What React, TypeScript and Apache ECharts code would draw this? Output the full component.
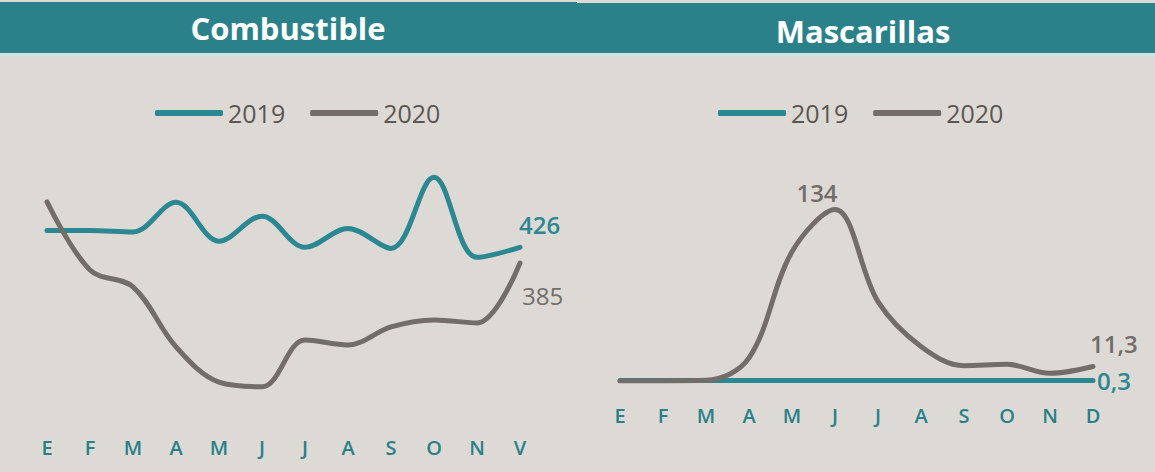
import React, { useEffect, useRef } from "react";
import * as echarts from "echarts";

const monthsFuel = ["E", "F", "M", "A", "M", "J", "J", "A", "S", "O", "N", "V"];
const monthsMask = ["E", "F", "M", "A", "M", "J", "J", "A", "S", "O", "N", "D"];
const fuel2019 = [470, 470, 466, 543, 442, 507, 426, 475, 423, 608, 400, 426];
const fuel2020 = [544, 367, 323, 167, 75, 63, 185, 172, 219, 237, 229, 385];
const mask2019 = [0.3, 0.3, 0.3, 0.3, 0.3, 0.3, 0.3, 0.3, 0.3, 0.3, 0.3, 0.3];
const mask2020 = [0, 0, 0.5, 18, 101, 134, 62, 27, 12, 13, 6, 11.3];
const titles = ["Combustible", "Mascarillas"];
const seriesNames = ["2019", "2020"];

const TEAL = "#2b8792";
const GRAY = "#726d68";
const HEADER = "#2b818a";
const FONT = "'Open Sans', sans-serif";

const fmt = (v: number) => String(v).replace(".", ",");

export default function App() {
  const ref = useRef<HTMLDivElement>(null);
  useEffect(() => {
    const chart = echarts.init(ref.current!, null, { renderer: "svg" });
    const lab = (
      v: number,
      color: string,
      position: any,
      offset: number[],
      bold: boolean,
      distance = 0
    ) => ({
      value: v,
      label: {
        show: true,
        position,
        offset,
        distance,
        formatter: fmt(v),
        color,
        fontSize: 24,
        fontFamily: FONT,
        fontWeight: bold ? 600 : 400,
      },
    });
    const withLabels = (arr: number[], special: Record<number, any>) =>
      arr.map((v, i) => (special[i] ? special[i](v) : v));

    const lineSeries = (name: string, color: string, data: any[], idx: number) => ({
      name,
      type: "line",
      xAxisIndex: idx,
      yAxisIndex: idx,
      data,
      smooth: 0.35,
      symbol: "circle",
      symbolSize: 0,
      showSymbol: true,
      lineStyle: { color, width: 5, cap: "round" },
      itemStyle: { color },
      emphasis: { disabled: true },
      label: { show: false },
    });

    const legend = (left: number) => ({
      left,
      top: 95,
      data: seriesNames,
      icon: "roundRect",
      itemWidth: 68,
      itemHeight: 6,
      itemGap: 25,
      selectedMode: false,
      textStyle: { fontSize: 25, color: "#5b5651", fontFamily: FONT, lineHeight: 26 },
    });

    const xAxis = (data: string[], idx: number, margin: number) => ({
      type: "category",
      gridIndex: idx,
      data,
      boundaryGap: false,
      axisLine: { show: false },
      axisTick: { show: false },
      axisLabel: {
        color: "#2a8088",
        fontSize: 20,
        fontWeight: 600,
        fontFamily: FONT,
        margin,
        interval: 0,
      },
    });

    chart.setOption({
      animation: false,
      backgroundColor: "#dddad5",
      textStyle: { fontFamily: FONT },
      graphic: [
        { type: "rect", shape: { x: 0, y: 2, width: 577, height: 51 }, style: { fill: HEADER } },
        { type: "rect", shape: { x: 577, y: 3, width: 578, height: 50 }, style: { fill: HEADER } },
        { type: "rect", shape: { x: 0, y: 53, width: 1155, height: 3 }, style: { fill: "#cfe3e5" } },
        {
          type: "text",
          x: 288,
          y: 28,
          style: {
            text: titles[0],
            fill: "#ffffff",
            fontSize: 31,
            fontWeight: "bold",
            fontFamily: FONT,
            textAlign: "center",
            textVerticalAlign: "middle",
          },
        },
        {
          type: "text",
          x: 863,
          y: 31,
          style: {
            text: titles[1],
            fill: "#ffffff",
            fontSize: 31,
            fontWeight: "bold",
            fontFamily: FONT,
            textAlign: "center",
            textVerticalAlign: "middle",
          },
        },
      ],
      legend: [legend(150), legend(713)],
      grid: [
        { left: 47, width: 473, top: 142, height: 269 },
        { left: 620, width: 473, top: 189, height: 192 },
      ],
      xAxis: [xAxis(monthsFuel, 0, 26), xAxis(monthsMask, 1, 24)],
      yAxis: [
        { type: "value", gridIndex: 0, min: 0, max: 700, show: false, splitLine: { show: false } },
        { type: "value", gridIndex: 1, min: 0, max: 150, show: false, splitLine: { show: false } },
      ],
      series: [
        lineSeries(
          seriesNames[0],
          TEAL,
          withLabels(fuel2019, { 11: (v: number) => lab(v, TEAL, "right", [-1, -23], true) }),
          0
        ),
        lineSeries(
          seriesNames[1],
          GRAY,
          withLabels(fuel2020, { 11: (v: number) => lab(v, GRAY, "right", [2, 32], false) }),
          0
        ),
        lineSeries(
          seriesNames[0],
          TEAL,
          withLabels(mask2019, { 11: (v: number) => lab(v, TEAL, "right", [0, 0], true, 4) }),
          1
        ),
        lineSeries(
          seriesNames[1],
          GRAY,
          withLabels(mask2020, {
            5: (v: number) => lab(v, GRAY, "top", [-18, 0], true, 5),
            11: (v: number) => lab(v, GRAY, "right", [-3, -23], true),
          }),
          1
        ),
      ],
    });
    return () => chart.dispose();
  }, []);
  return (
    <div
      ref={ref}
      style={{ position: "fixed", left: 0, top: 0, width: 1155, height: 472 }}
    />
  );
}
